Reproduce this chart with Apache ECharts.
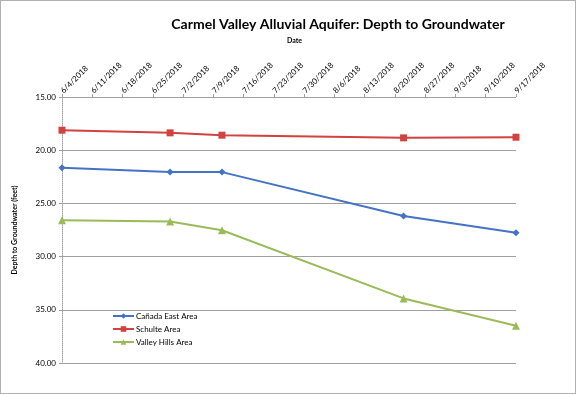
<!DOCTYPE html>
<html><head><meta charset="utf-8">
<script src="https://cdn.jsdelivr.net/npm/echarts@6/dist/echarts.min.js"></script>
<style>
html,body{margin:0;padding:0;background:#fff;}
#c{width:574px;height:392px;border:1px solid #b0b0b0;}
</style></head>
<body><div id="c"></div>
<script>
const startDate = '2018-06-04';
const endDate = '2018-09-17';
const sampleDates = ['2018-06-04','2018-06-29','2018-07-11','2018-08-22','2018-09-17'];
const canadaEast = [21.65, 22.06, 22.06, 26.18, 27.75];
const schulte = [18.12, 18.37, 18.59, 18.84, 18.78];
const valleyHills = [26.58, 26.71, 27.52, 33.93, 36.49];
const seriesNames = ['Cañada East Area','Schulte Area','Valley Hills Area'];

const DAY = 86400000;
const t0 = Date.parse(startDate + 'T00:00:00Z');
const dayOf = s => Math.round((Date.parse(s + 'T00:00:00Z') - t0) / DAY);
const maxDay = dayOf(endDate);
const fmt = d => { const dt = new Date(t0 + d * DAY); return (dt.getUTCMonth()+1) + '/' + dt.getUTCDate() + '/' + dt.getUTCFullYear(); };
const pts = arr => sampleDates.map((s,i) => [dayOf(s), arr[i]]);

const font = 'Lato, "Open Sans", sans-serif';
const chart = echarts.init(document.getElementById('c'));
chart.setOption({
  animation: false,
  textStyle: {fontFamily: font},
  title: {
    text: 'Carmel Valley Alluvial Aquifer: Depth to Groundwater',
    left: 332, top: 11, textAlign: 'center',
    textStyle: {fontSize: 14, fontWeight: 'bold', color: '#000', fontFamily: font}
  },
  graphic: [{
    type: 'text', left: 286, top: 36,
    style: {text: 'Date', font: 'bold 7px ' + font, fill: '#000'}
  }],
  legend: {
    orient: 'vertical', left: 106, top: 306, itemGap: 5,
    itemWidth: 21, itemHeight: 7,
    textStyle: {fontSize: 8, color: '#000', fontFamily: font, padding: [0,0,0,-3]},
    data: seriesNames
  },
  grid: {left: 61, right: 59, top: 96, bottom: 30},
  xAxis: {
    type: 'value', position: 'top', min: 0, max: maxDay, interval: 7,
    axisLine: {show: true, lineStyle: {color: '#a0a0a0', type: 'dotted', width: 1}},
    axisTick: {show: true, length: 3, lineStyle: {color: '#a0a0a0'}},
    splitLine: {show: false},
    axisLabel: {rotate: -45, fontSize: 8, color: '#000', margin: 5, formatter: v => fmt(v), fontFamily: font}
  },
  yAxis: {
    type: 'value', inverse: true, min: 15, max: 40, interval: 5,
    name: 'Depth to Groundwater (feet)', nameLocation: 'middle', nameGap: 44, nameRotate: 90,
    nameTextStyle: {fontSize: 7, fontWeight: 'bold', color: '#000', fontFamily: font},
    axisLine: {show: true, lineStyle: {color: '#a0a0a0', type: 'dotted', width: 1}},
    axisTick: {show: true, length: 3, lineStyle: {color: '#a0a0a0'}},
    splitLine: {show: true, lineStyle: {color: '#a0a0a0', width: 1}},
    axisLabel: {fontSize: 8, color: '#000', margin: 6, formatter: v => v.toFixed(2), fontFamily: font}
  },
  series: [
    {name: seriesNames[0], type: 'line', data: pts(canadaEast), symbol: 'diamond', symbolSize: 7,
     lineStyle: {color: '#4472C4', width: 2}, itemStyle: {color: '#4472C4'}},
    {name: seriesNames[1], type: 'line', data: pts(schulte), symbol: 'rect', symbolSize: 7,
     lineStyle: {color: '#D0433F', width: 2}, itemStyle: {color: '#D0433F'}},
    {name: seriesNames[2], type: 'line', data: pts(valleyHills), symbol: 'triangle', symbolSize: 8,
     lineStyle: {color: '#9BBB59', width: 2}, itemStyle: {color: '#9BBB59'}}
  ]
});
</script></body></html>
